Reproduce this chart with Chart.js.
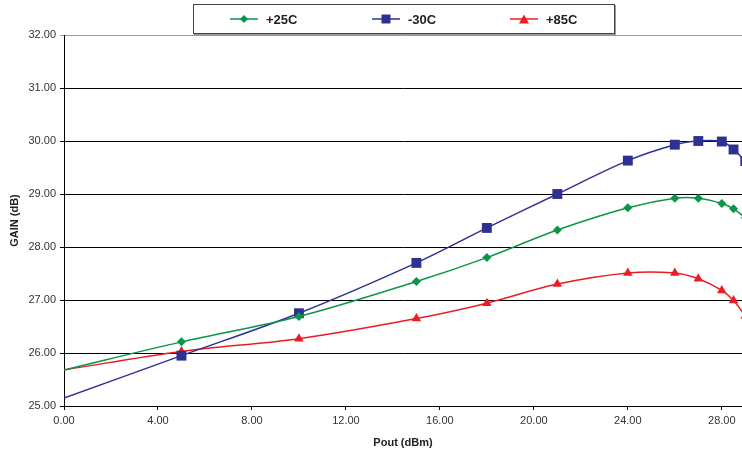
<!DOCTYPE html>
<html>
<head>
<meta charset="utf-8">
<script src="https://cdn.jsdelivr.net/npm/chart.js@4"></script>
<style>
  body{margin:0;background:#fff;font-family:"Liberation Sans",Arial,sans-serif;}
  #wrap{position:relative;width:742px;height:454px;}
  #legend{position:absolute;left:193px;top:4px;width:420px;height:28px;border:1px solid #444;box-shadow:1px 1px 0 #999;background:#fff;}
  .item{position:absolute;top:0;height:28px;display:flex;align-items:center;font-weight:bold;font-size:13px;color:#222;}
  .item svg{margin-right:8px;}
</style>
</head>
<body>
<div id="wrap">
  <canvas id="chart" width="742" height="454"></canvas>
  <div id="legend"></div>
</div>
<script>
const pout = [0, 5, 10, 15, 18, 21, 24, 26, 27, 28, 28.5, 29];
const gainP25 = [25.68, 26.21, 26.69, 27.35, 27.80, 28.32, 28.74, 28.92, 28.92, 28.82, 28.72, 28.55];
const gainM30 = [25.15, 25.95, 26.75, 27.70, 28.36, 29.00, 29.63, 29.93, 30.00, 29.99, 29.84, 29.62];
const gainP85 = [25.68, 26.03, 26.27, 26.65, 26.94, 27.30, 27.51, 27.51, 27.40, 27.18, 26.99, 26.70];
const seriesNames = ["+25C", "-30C", "+85C"];
const xTickValues = [0, 4, 8, 12, 16, 20, 24, 28];
const yTickValues = [25, 26, 27, 28, 29, 30, 31, 32];

const GREEN = "#0a9648", BLUE = "#2e3192", RED = "#ed1c24";

function pts(ys){
  return pout.map((x, i) => ({ x: x, y: ys[i] }));
}
// no marker on the first point (x = 0)
const radius = (r) => pout.map((x) => x === 0 ? 0 : r);

function series(label, ys, color, style, r){
  return {
    label: label,
    data: pts(ys),
    borderColor: color,
    backgroundColor: color,
    borderWidth: 1.5,
    pointStyle: style,
    pointRadius: radius(r),
    pointBorderWidth: 0,
    tension: 0.35
  };
}

const tickFont = { family: "'Liberation Sans', Arial, sans-serif", size: 11 };
const titleFont = { family: "'Liberation Sans', Arial, sans-serif", size: 11, weight: "bold" };

new Chart(document.getElementById("chart"), {
  type: "line",
  data: {
    datasets: [
      series(seriesNames[0], gainP25, GREEN, "rectRot", 4.5),
      series(seriesNames[1], gainM30, BLUE, "rect", 7),
      series(seriesNames[2], gainP85, RED, "triangle", 5.5)
    ]
  },
  options: {
    responsive: false,
    animation: false,
    layout: { autoPadding: false, padding: { top: 35, right: 0, left: 0, bottom: 0 } },
    plugins: { legend: { display: false }, tooltip: { enabled: false } },
    scales: {
      x: {
        type: "linear",
        min: 0,
        max: 28.86,
        afterBuildTicks: (s) => { s.ticks = xTickValues.map(v => ({ value: v })); },
        afterFit: (s) => { s.height = 48; s.paddingRight = 0; s.paddingLeft = 0; },
        ticks: { font: tickFont, color: "#333", padding: 4, maxRotation: 0,
                 callback: (v) => Number(v).toFixed(2) },
        grid: { drawOnChartArea: false, drawTicks: true, tickLength: 4, color: "#000" },
        border: { display: true, color: "#000", width: 1 },
        title: { display: true, text: "Pout (dBm)", font: titleFont, color: "#222",
                 padding: { top: 0, bottom: 4 } }
      },
      y: {
        min: 25,
        max: 32,
        afterBuildTicks: (s) => { s.ticks = yTickValues.map(v => ({ value: v })); },
        afterFit: (s) => { s.width = 64; },
        ticks: { font: tickFont, color: "#333", padding: 4,
                 callback: (v) => Number(v).toFixed(2) },
        grid: { tickLength: 4, lineWidth: 1,
                color: (c) => c.tick && c.tick.value === 32 ? "#999" : "#000" },
        border: { display: true, color: "#000", width: 1 },
        title: { display: true, text: "GAIN (dB)", font: titleFont, color: "#222",
                 padding: { top: 8, bottom: 0 } }
      }
    }
  }
});

// legend drawn as html
const legendItems = [
  { name: seriesNames[0], color: GREEN, left: 36, mark: '<polygon points="14,1 18,5 14,9 10,5"/>' },
  { name: seriesNames[1], color: BLUE, left: 178, mark: '<rect x="9.5" y="0.5" width="9" height="9"/>' },
  { name: seriesNames[2], color: RED, left: 316, mark: '<polygon points="14,0.5 19,9.5 9,9.5"/>' }
];
const lg = document.getElementById("legend");
legendItems.forEach(it => {
  const d = document.createElement("div");
  d.className = "item";
  d.style.left = it.left + "px";
  d.innerHTML = '<svg width="28" height="10" viewBox="0 0 28 10"><line x1="0" y1="5" x2="28" y2="5" stroke="' +
    it.color + '" stroke-width="1.5"/><g fill="' + it.color + '">' + it.mark + '</g></svg><span>' + it.name + '</span>';
  lg.appendChild(d);
});
</script>
</body>
</html>
